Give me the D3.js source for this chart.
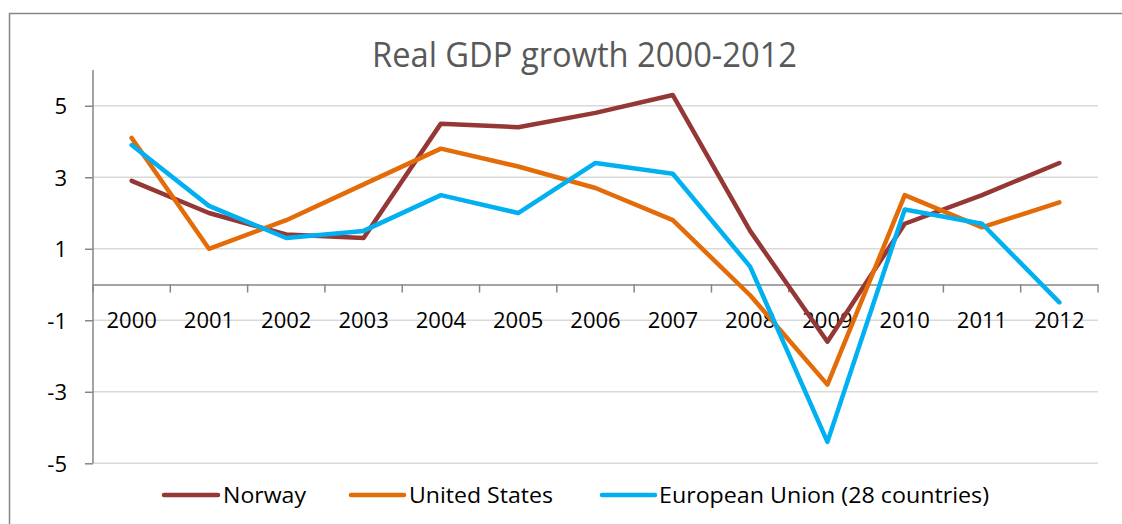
<!DOCTYPE html>
<html>
<head>
<meta charset="utf-8">
<script src="https://cdn.jsdelivr.net/npm/d3@7"></script>
<style>
  html, body { margin: 0; padding: 0; background: #fff; }
  svg { display: block; font-family: "Open Sans", "Liberation Sans", sans-serif; }
</style>
</head>
<body>
<svg id="chart" width="1122" height="524"></svg>
<script>
// Annual real GDP growth, percent
const years = ["2000","2001","2002","2003","2004","2005","2006","2007","2008","2009","2010","2011","2012"];
const norway = [2.9, 2.0, 1.4, 1.3, 4.5, 4.4, 4.8, 5.3, 1.5, -1.6, 1.7, 2.5, 3.4];
const unitedStates = [4.1, 1.0, 1.8, 2.8, 3.8, 3.3, 2.7, 1.8, -0.3, -2.8, 2.5, 1.6, 2.3];
const europeanUnion = [3.9, 2.2, 1.3, 1.5, 2.5, 2.0, 3.4, 3.1, 0.5, -4.4, 2.1, 1.7, -0.5];
const seriesNames = ["Norway", "United States", "European Union (28 countries)"];
const yTicks = [5, 3, 1, -1, -3, -5];
const title = "Real GDP growth 2000-2012";

const colors = ["#953735", "#E36C09", "#00B0F0"];
const seriesValues = [norway, unitedStates, europeanUnion];

const svg = d3.select("#chart");
const plot = { left: 93, right: 1098, top: 70, bottom: 463.3 };

// Chart area frame (runs past the right and bottom edges)
svg.append("rect")
  .attr("x", 9.5).attr("y", 13.5)
  .attr("width", 1130).attr("height", 530)
  .attr("fill", "#fff").attr("stroke", "#868686").attr("stroke-width", 1.5);

const x = d3.scaleBand().domain(years).range([plot.left, plot.right]).padding(0);
const y = d3.scaleLinear().domain([-5, 6]).range([plot.bottom, plot.top]);

// Title
svg.append("text")
  .attr("x", 584.5).attr("y", 67)
  .attr("text-anchor", "middle")
  .attr("font-size", 34)
  .attr("fill", "#595959")
  .attr("textLength", 425).attr("lengthAdjust", "spacingAndGlyphs")
  .text(title);

// Horizontal gridlines
svg.append("g").selectAll("line").data(yTicks).join("line")
  .attr("x1", plot.left).attr("x2", plot.right)
  .attr("y1", d => y(d)).attr("y2", d => y(d))
  .attr("stroke", "#D9D9D9").attr("stroke-width", 1.5);

// Value axis
const yAxis = d3.axisLeft(y).tickValues(yTicks).tickSize(8).tickPadding(18)
  .tickFormat(d => d < 0 ? "-" + Math.abs(d) : String(d));
const gy = svg.append("g").attr("transform", `translate(${plot.left},0)`).call(yAxis);
gy.select(".domain").attr("d", `M0,${plot.top}V${plot.bottom}`).attr("stroke", "#868686").attr("stroke-width", 1.5);
gy.selectAll(".tick line").attr("stroke", "#868686").attr("stroke-width", 1.5);
gy.selectAll(".tick text")
  .attr("font-size", 22).attr("fill", "#000")
  .attr("font-family", "'Open Sans', sans-serif")
  .attr("dy", "0.36em");

// Category axis at zero
const xAxis = d3.axisBottom(x).tickSize(0).tickFormat(() => "");
const gx = svg.append("g").attr("transform", `translate(0,${y(0)})`).call(xAxis);
gx.select(".domain").attr("stroke", "#868686").attr("stroke-width", 1.5);
gx.selectAll(".tick").remove();
// Ticks at the category boundaries
const bounds = years.map(d => x(d)).concat([x(years[years.length - 1]) + x.bandwidth()]);
gx.selectAll("line.bound").data(bounds).join("line")
  .attr("class", "bound")
  .attr("x1", d => d).attr("x2", d => d)
  .attr("y1", 0).attr("y2", 8)
  .attr("stroke", "#868686").attr("stroke-width", 1.5);

// Category labels on the -1 row
svg.append("g").selectAll("text").data(years).join("text")
  .attr("x", d => x(d) + x.bandwidth() / 2)
  .attr("y", y(-1) + 7.5)
  .attr("text-anchor", "middle")
  .attr("font-size", 22)
  .attr("fill", "#000")
  .text(d => d);

// Series lines
const line = d3.line()
  .x((d, i) => x(years[i]) + x.bandwidth() / 2)
  .y(d => y(d));

svg.append("g").selectAll("path").data(seriesValues).join("path")
  .attr("d", d => line(d))
  .attr("fill", "none")
  .attr("stroke", (d, i) => colors[i])
  .attr("stroke-width", 4.5)
  .attr("stroke-linejoin", "round")
  .attr("stroke-linecap", "round");

// Legend
const legendItems = [
  { x0: 164, x1: 218, tx: 223, tw: 83 },
  { x0: 351, x1: 404, tx: 409, tw: 144 },
  { x0: 602, x1: 655, tx: 659, tw: 330 }
];
const lg = svg.append("g");
legendItems.forEach((it, i) => {
  lg.append("line")
    .attr("x1", it.x0).attr("x2", it.x1)
    .attr("y1", 495).attr("y2", 495)
    .attr("stroke", colors[i]).attr("stroke-width", 4.5)
    .attr("stroke-linecap", "round");
  lg.append("text")
    .attr("x", it.tx).attr("y", 503)
    .attr("font-size", 22)
    .attr("fill", "#000")
    .attr("textLength", it.tw).attr("lengthAdjust", "spacingAndGlyphs")
    .text(seriesNames[i]);
});
</script>
</body>
</html>
